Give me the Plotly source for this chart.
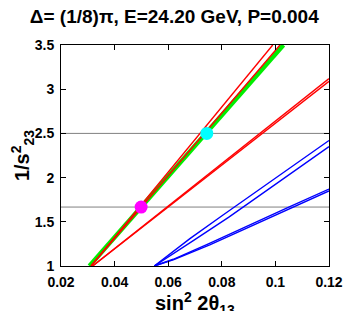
import plotly.graph_objects as go

# Data
green_x = [0.0306, 0.1030]
green_y = [1.0, 3.5]

red1_x = [0.0312, 0.0990]
red1_y = [1.0, 3.5]
red2_x = [0.0312, 0.1017]
red2_y = [1.0, 3.5]
red3_x = [0.0318, 0.12]
red3_y = [1.0, 3.12]
red4_x = [0.0318, 0.12]
red4_y = [1.0, 3.09]

blueA_x = [0.0548, 0.0607, 0.0681, 0.0806, 0.0950, 0.12]
blueA_y = [1.0, 1.14, 1.31, 1.58, 1.89, 2.42]
blueB_x = [0.0548, 0.0615, 0.0695, 0.0825, 0.0970, 0.12]
blueB_y = [1.0, 1.13, 1.29, 1.55, 1.86, 2.35]
blueC_x = [0.0548, 0.0619, 0.0750, 0.0900, 0.1050, 0.12]
blueC_y = [1.0, 1.076, 1.25, 1.46, 1.665, 1.87]
blueD_x = [0.0548, 0.0621, 0.0755, 0.0905, 0.1055, 0.12]
blueD_y = [1.0, 1.072, 1.24, 1.445, 1.65, 1.85]

hlines_y = [2.5, 1.6667]
x_range = [0.02, 0.12]

magenta_pt = (0.0499, 1.6667)
cyan_pt = (0.0744, 2.5)

xticks = [0.02, 0.04, 0.06, 0.08, 0.1, 0.12]
xticklabels = ["0.02", "0.04", "0.06", "0.08", "0.1", "0.12"]
yticks = [1, 1.5, 2, 2.5, 3, 3.5]
yticklabels = ["1", "1.5", "2", "2.5", "3", "3.5"]

fig = go.Figure()

for yv in hlines_y:
    fig.add_trace(go.Scatter(x=x_range, y=[yv, yv], mode="lines",
                             line=dict(color="#808080", width=1), showlegend=False))

fig.add_trace(go.Scatter(x=green_x, y=green_y, mode="lines",
                         line=dict(color="#00ee00", width=4.5), showlegend=False))
for xs, ys in [(red1_x, red1_y), (red2_x, red2_y), (red3_x, red3_y), (red4_x, red4_y)]:
    fig.add_trace(go.Scatter(x=xs, y=ys, mode="lines",
                             line=dict(color="#ff0000", width=1.4), showlegend=False))
for xs, ys in [(blueA_x, blueA_y), (blueB_x, blueB_y), (blueC_x, blueC_y), (blueD_x, blueD_y)]:
    fig.add_trace(go.Scatter(x=xs, y=ys, mode="lines",
                             line=dict(color="#0000ff", width=1.4), showlegend=False))

fig.add_trace(go.Scatter(x=[magenta_pt[0]], y=[magenta_pt[1]], mode="markers",
                         marker=dict(color="#ff00ff", size=13), showlegend=False))
fig.add_trace(go.Scatter(x=[cyan_pt[0]], y=[cyan_pt[1]], mode="markers",
                         marker=dict(color="#00ffff", size=13), showlegend=False))

fnt = "Liberation Sans, Arial, sans-serif"
fig.update_layout(
    width=346, height=303,
    margin=dict(l=53, r=25, t=37, b=45, autoexpand=False),
    paper_bgcolor="white", plot_bgcolor="white",
    title=dict(text="<b>Δ= (1/8)π, E=24.20 GeV, P=0.004</b>",
               x=0.063, xanchor="left", y=0.995, yanchor="top",
               font=dict(family=fnt, size=19, color="black")),
    annotations=[dict(text="<b>sin<sup>2</sup> 2θ<sub>13</sub></b>",
                      xref="paper", yref="paper", x=0.5, y=0,
                      xanchor="center", yanchor="top", yshift=-21,
                      showarrow=False,
                      font=dict(family=fnt, size=20, color="black"))],
)
fig.update_xaxes(range=x_range, tickvals=xticks, ticktext=xticklabels, automargin=False,
                 showgrid=False, zeroline=False, showline=True, linecolor="black",
                 linewidth=1, mirror="ticks", ticks="inside", ticklen=5,
                 tickcolor="black", ticklabelstandoff=3,
                 tickfont=dict(family=fnt, size=14, color="black", weight="bold"))
fig.update_yaxes(range=[1, 3.5], tickvals=yticks, ticktext=yticklabels, automargin=False,
                 showgrid=False, zeroline=False, showline=True, linecolor="black",
                 linewidth=1, mirror="ticks", ticks="inside", ticklen=5,
                 tickcolor="black", ticklabelstandoff=3,
                 tickfont=dict(family=fnt, size=14, color="black", weight="bold"),
                 title=dict(text="<b>1/s<sup>2</sup><sub>23</sub></b>",
                            font=dict(family=fnt, size=20, color="black"), standoff=2))

fig.write_html("out.html")
